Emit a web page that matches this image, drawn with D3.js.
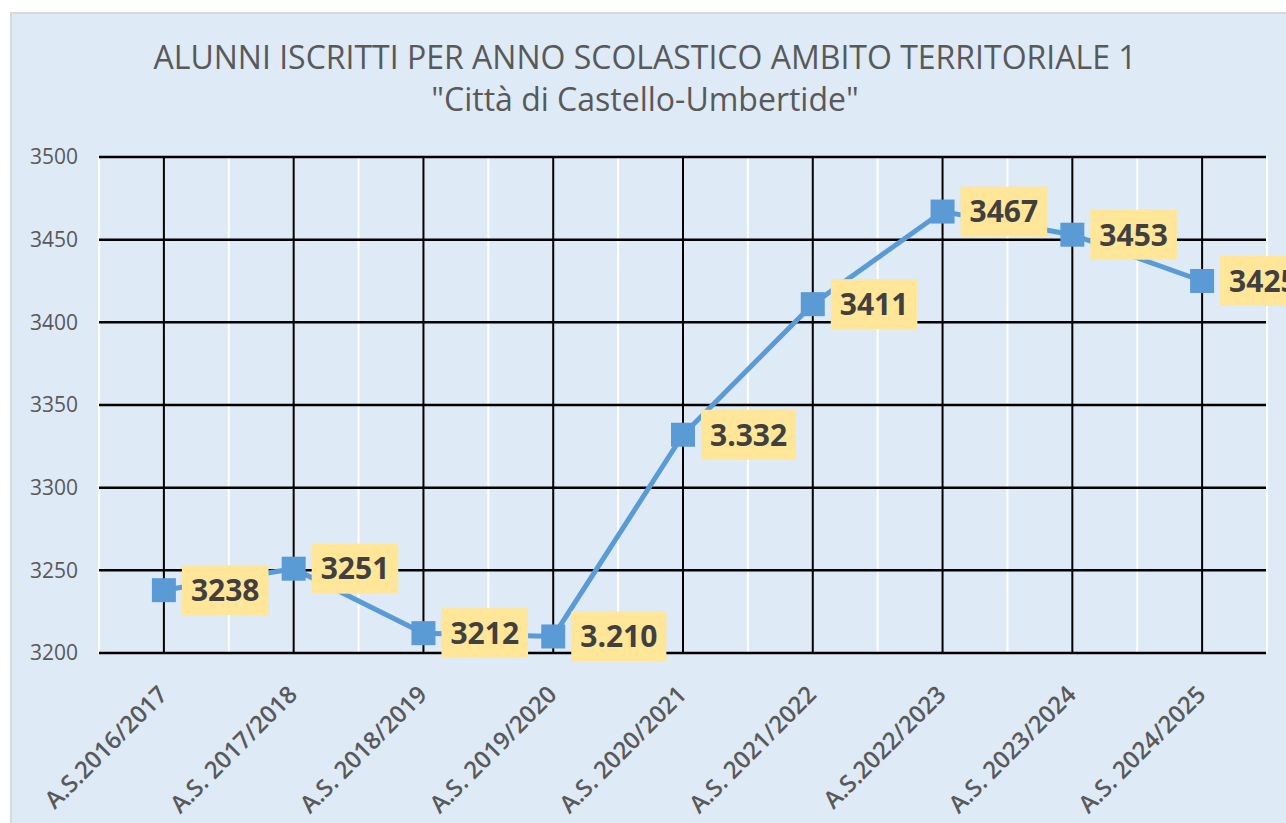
<!DOCTYPE html>
<html>
<head>
<meta charset="utf-8">
<script src="https://cdn.jsdelivr.net/npm/d3@7"></script>
<style>
  body { margin: 0; background: #ffffff; }
  svg { display: block; }
  text { font-family: "Open Sans", sans-serif; }
</style>
</head>
<body>
<svg id="chart"></svg>
<script>
// data
var categories = ["A.S.2016/2017", "A.S. 2017/2018", "A.S. 2018/2019", "A.S. 2019/2020",
  "A.S. 2020/2021", "A.S. 2021/2022", "A.S.2022/2023", "A.S. 2023/2024", "A.S. 2024/2025"];
var values = [3238, 3251, 3212, 3210, 3332, 3411, 3467, 3453, 3425];
var pointLabels = ["3238", "3251", "3212", "3.210", "3.332", "3411", "3467", "3453", "3425"];
var yTicks = [3200, 3250, 3300, 3350, 3400, 3450, 3500];
var titleLines = ["ALUNNI ISCRITTI PER ANNO SCOLASTICO AMBITO TERRITORIALE 1", "\"Città di Castello-Umbertide\""];

var width = 1286, height = 823;
var plot = {left: 99, right: 1267, top: 157, bottom: 653};

var svg = d3.select("#chart")
  .attr("width", width)
  .attr("height", height);

// chart area
svg.append("rect")
  .attr("x", 11).attr("y", 13)
  .attr("width", width + 20).attr("height", height + 20)
  .attr("fill", "#deeaf6")
  .attr("stroke", "#d9d9d9")
  .attr("stroke-width", 2);

var x = d3.scaleBand().domain(categories).range([plot.left, plot.right]);
var y = d3.scaleLinear().domain([3200, 3500]).range([plot.bottom, plot.top]);
var cx = function(d){ return x(d) + x.bandwidth() / 2; };

// title
var title = svg.append("text")
  .attr("text-anchor", "middle")
  .attr("fill", "#595959")
  .style("font-size", "32px");
title.selectAll("tspan")
  .data(titleLines)
  .enter().append("tspan")
  .attr("x", 645)
  .attr("y", function(d, i){ return 69 + i * 42; })
  .text(function(d){ return d; });

// white lines at category edges
svg.append("g")
  .selectAll("line")
  .data(categories.concat([null]))
  .enter().append("line")
  .attr("x1", function(d){ return d === null ? plot.right : x(d); })
  .attr("x2", function(d){ return d === null ? plot.right : x(d); })
  .attr("y1", plot.top)
  .attr("y2", plot.bottom)
  .attr("stroke", "#ffffff")
  .attr("stroke-width", 2);

// black vertical lines at categories
svg.append("g")
  .selectAll("line")
  .data(categories)
  .enter().append("line")
  .attr("x1", cx).attr("x2", cx)
  .attr("y1", plot.top)
  .attr("y2", plot.bottom)
  .attr("stroke", "#000000")
  .attr("stroke-width", 2);

// horizontal grid
svg.append("g")
  .selectAll("line")
  .data(yTicks)
  .enter().append("line")
  .attr("x1", plot.left).attr("x2", plot.right - 1)
  .attr("y1", function(d){ return y(d); })
  .attr("y2", function(d){ return y(d); })
  .attr("stroke", "#000000")
  .attr("stroke-width", 2.5);

// y axis labels
var yAxis = svg.append("g")
  .attr("transform", "translate(" + 78 + ",0)")
  .call(d3.axisLeft(y).tickValues(yTicks).tickSize(0).tickPadding(0).tickFormat(d3.format("d")));
yAxis.select(".domain").remove();
yAxis.selectAll("text")
  .attr("fill", "#595959")
  .style("font-family", "'Open Sans', sans-serif")
  .style("font-size", "21px");

// x axis labels rotated
var xAxis = svg.append("g")
  .attr("transform", "translate(0," + plot.bottom + ")")
  .call(d3.axisBottom(x).tickSize(0).tickPadding(0));
xAxis.select(".domain").remove();
xAxis.selectAll("text")
  .attr("fill", "#595959")
  .attr("text-anchor", "end")
  .attr("x", 0).attr("y", 0).attr("dy", null)
  .attr("transform", "translate(5,43) rotate(-45)")
  .style("font-family", "'Open Sans', sans-serif")
  .style("font-size", "24px")
  .style("font-weight", "600");

// line
var line = d3.line()
  .x(function(d, i){ return cx(categories[i]); })
  .y(function(d){ return y(d); });

svg.append("path")
  .datum(values)
  .attr("d", line)
  .attr("fill", "none")
  .attr("stroke", "#5b9bd5")
  .attr("stroke-width", 5);

// markers
svg.append("g")
  .selectAll("rect")
  .data(values)
  .enter().append("rect")
  .attr("x", function(d, i){ return cx(categories[i]) - 12; })
  .attr("y", function(d){ return y(d) - 12; })
  .attr("width", 24).attr("height", 24)
  .attr("fill", "#5b9bd5");

// data labels
var lab = svg.append("g")
  .selectAll("g")
  .data(values)
  .enter().append("g")
  .attr("transform", function(d, i){ return "translate(" + (cx(categories[i]) + 18) + "," + y(d) + ")"; });

var box = lab.append("rect")
  .attr("y", -25)
  .attr("height", 50)
  .attr("fill", "#ffe699");

var labText = lab.append("text")
  .attr("dy", "0.36em")
  .attr("fill", "#404040")
  .style("font-size", "30px")
  .style("font-weight", "bold")
  .text(function(d, i){ return pointLabels[i]; });

labText.each(function(d, i){
  var w = this.getComputedTextLength();
  d3.select(this).attr("x", 9);
  d3.select(box.nodes()[i]).attr("width", w + 18);
});
</script>
</body>
</html>
